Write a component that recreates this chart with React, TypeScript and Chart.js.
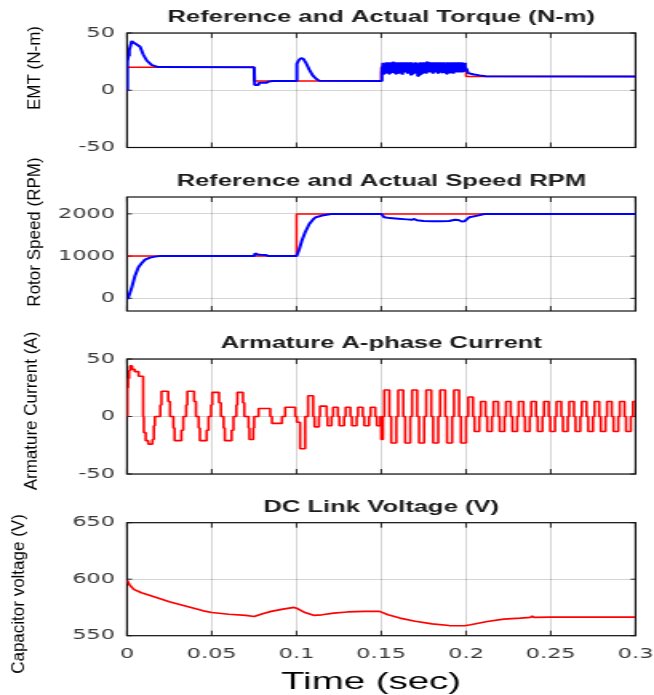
import React, { useEffect, useRef } from 'react';
import { Chart, registerables } from 'chart.js';

Chart.register(...registerables);

type Pt = [number, number];

// ---------- data ----------
const timeTicks = [0, 0.05, 0.1, 0.15, 0.2, 0.25, 0.3];
const timeTickLabels = ['0', '0.05', '0.1', '0.15', '0.2', '0.25', '0.3'];

const torqueTicks = [-50, 0, 50];
const speedTicks = [0, 1000, 2000];
const currentTicks = [-50, 0, 50];
const voltageTicks = [550, 600, 650];

const torqueRef: Pt[] = [
  [0, 20], [0.075, 20], [0.075, 8], [0.15, 8], [0.15, 20], [0.2, 20], [0.2, 12], [0.3, 12],
];

const torqueActual: Pt[] = [
  [0, 0], [0.0002, 25], [0.0008, 30], [0.0013, 35], [0.0028, 43], [0.004, 41.5], [0.0057, 40],
  [0.0077, 38], [0.0096, 31], [0.0116, 26], [0.0146, 22], [0.0185, 20.2], [0.075, 20],
  [0.0753, 4.5], [0.0775, 4.5], [0.078, 6.5], [0.0825, 6.5], [0.083, 7.5], [0.086, 8],
  [0.0998, 8], [0.1002, 23], [0.1012, 26], [0.1025, 28], [0.104, 27.5], [0.1055, 24],
  [0.1075, 18], [0.1095, 13], [0.1115, 10], [0.1135, 8.2], [0.1497, 8], [0.1502, 14],
  [0.1505, 15.5], [0.151, 24], [0.1515, 14.5], [0.152, 23], [0.1525, 15.5], [0.153, 24.5], [0.1535, 16],
  [0.154, 24], [0.1545, 14.5], [0.155, 24.5], [0.1555, 15.5], [0.156, 24], [0.1565, 16], [0.157, 25],
  [0.1575, 15.5], [0.158, 24], [0.1585, 14.5], [0.159, 24.5], [0.1595, 16], [0.16, 23], [0.1605, 14.5],
  [0.161, 24.5], [0.1615, 15.5], [0.162, 24], [0.1625, 13.5], [0.163, 24.5], [0.1635, 15.5], [0.164, 24],
  [0.1645, 16], [0.165, 24.5], [0.1655, 14.5], [0.166, 24], [0.1665, 15.5], [0.167, 24.5], [0.1675, 13],
  [0.168, 24], [0.1685, 14.5], [0.169, 23], [0.1695, 15.5], [0.17, 24.5], [0.1705, 16], [0.171, 24],
  [0.1715, 12.5], [0.172, 23], [0.1725, 13.5], [0.173, 24.5], [0.1735, 14.5], [0.174, 24], [0.1745, 15.5],
  [0.175, 24.5], [0.1755, 16], [0.176, 24], [0.1765, 14.5], [0.177, 25], [0.1775, 15.5], [0.178, 24],
  [0.1785, 16], [0.179, 24.5], [0.1795, 15.5], [0.18, 24], [0.1805, 14.5], [0.181, 24.5], [0.1815, 16],
  [0.182, 23], [0.1825, 15.5], [0.183, 24.5], [0.1835, 14.5], [0.184, 24], [0.1845, 16], [0.185, 24.5],
  [0.1855, 15.5], [0.186, 24], [0.1865, 16], [0.187, 24.5], [0.1875, 15.5], [0.188, 23], [0.1885, 14.5],
  [0.189, 24.5], [0.1895, 16], [0.19, 24], [0.1905, 15.5], [0.191, 24.5], [0.1915, 16], [0.192, 24],
  [0.1925, 14.5], [0.193, 24.5], [0.1935, 15.5], [0.194, 24], [0.1945, 16], [0.195, 24.5], [0.1955, 15.5],
  [0.196, 24], [0.1965, 16], [0.197, 24.5], [0.1975, 15.5], [0.198, 24], [0.1985, 16], [0.199, 24],
  [0.1995, 17], [0.2002, 19], [0.2012, 15], [0.204, 14], [0.208, 13], [0.2115, 12.2], [0.3, 12],
];

const speedRef: Pt[] = [[0, 1000], [0.1, 1000], [0.1, 2000], [0.3, 2000]];

const speedActual: Pt[] = [
  [0, -20], [0.0008, 24], [0.0028, 260], [0.0047, 537], [0.0067, 735], [0.0087, 838],
  [0.0106, 917], [0.0136, 964], [0.0165, 988], [0.019, 1000], [0.075, 1000], [0.0755, 1065],
  [0.077, 1040], [0.079, 1030], [0.082, 1025], [0.0835, 1000], [0.1, 1000], [0.1015, 1150],
  [0.103, 1350], [0.105, 1560], [0.1075, 1760], [0.11, 1880], [0.1113, 1920], [0.115, 1960],
  [0.1186, 1985], [0.121, 2000], [0.15, 2000], [0.1517, 1920], [0.155, 1900], [0.16, 1885],
  [0.165, 1870], [0.168, 1860], [0.1695, 1880], [0.171, 1850], [0.175, 1830], [0.18, 1825],
  [0.185, 1825], [0.19, 1830], [0.1935, 1860], [0.1955, 1855], [0.1975, 1820], [0.199, 1825],
  [0.2019, 1920], [0.2068, 1960], [0.21, 1990], [0.212, 2000], [0.3, 2000],
];

// phase current, sample-and-hold steps (value holds until next time)
const phaseCurrent: Pt[] = [
  [0, 0], [0.0002, 25], [0.0006, 33], [0.0012, 40], [0.0018, 44], [0.003, 41], [0.0045, 39],
  [0.0068, 35], [0.0095, 0], [0.0099, -14], [0.011, -21], [0.0125, -24], [0.015, -20],
  [0.0158, -8], [0.0164, 0],
  [0.0196, 10], [0.0203, 22], [0.0243, 13], [0.0254, 0],
  [0.0274, -10], [0.0281, -21], [0.0321, -12], [0.0332, 0],
  [0.0349, 10], [0.0356, 22], [0.0396, 13], [0.0407, 0],
  [0.0423, -10], [0.043, -21], [0.047, -12], [0.0481, 0],
  [0.0496, 10], [0.0503, 21], [0.0543, 12], [0.0554, 0],
  [0.057, -10], [0.0577, -21], [0.0617, -12], [0.0628, 0],
  [0.0645, 10], [0.0651, 21], [0.0684, 12], [0.0692, 0],
  [0.0717, -10], [0.0722, -20], [0.0745, -10], [0.075, 0],
  [0.0776, 7], [0.0845, 0], [0.0855, -6], [0.0914, 0], [0.0933, 8], [0.0992, 0],
  [0.1002, -5], [0.1021, -28], [0.1051, 0],
  [0.1068, 18], [0.1098, 0], [0.1106, -9], [0.1132, 0], [0.1138, 9], [0.1178, 0],
  [0.1183, -8], [0.1207, 0], [0.1216, 8], [0.1244, 0], [0.1253, -8], [0.1281, 0],
  [0.129, 8], [0.1318, 0], [0.1327, -8], [0.1355, 0], [0.1363, 8], [0.1391, 0],
  [0.14, -8], [0.1428, 0], [0.1437, 8], [0.1465, 0], [0.1474, -8], [0.1495, 0],
  [0.15, -20], [0.151, 0], [0.1518, 23], [0.1548, 0], [0.1559, -23], [0.1589, 0],
  [0.16, 23], [0.163, 0], [0.1641, -23], [0.1671, 0], [0.1682, 23], [0.1712, 0],
  [0.1723, -23], [0.1753, 0], [0.1765, 23], [0.1795, 0], [0.1806, -23], [0.1836, 0],
  [0.1847, 23], [0.1877, 0], [0.1888, -23], [0.1918, 0], [0.1929, 23], [0.1959, 0],
  [0.197, -23], [0.2, 0], [0.2013, 17], [0.2041, 0], [0.205, -13], [0.2078, 0],
  [0.2087, 13], [0.2115, 0], [0.2125, -13], [0.2153, 0], [0.2162, 13], [0.219, 0],
  [0.2199, -13], [0.2227, 0], [0.2236, 13], [0.2264, 0], [0.2274, -13], [0.2302, 0],
  [0.2311, 13], [0.2339, 0], [0.2348, -13], [0.2376, 0], [0.2385, 13], [0.2413, 0],
  [0.2423, -13], [0.2451, 0], [0.246, 13], [0.2488, 0], [0.2497, -13], [0.2525, 0],
  [0.2534, 13], [0.2562, 0], [0.2572, -13], [0.26, 0], [0.2609, 13], [0.2637, 0],
  [0.2646, -13], [0.2674, 0], [0.2683, 13], [0.2711, 0], [0.2721, -13], [0.2749, 0],
  [0.2758, 13], [0.2786, 0], [0.2795, -13], [0.2823, 0], [0.2832, 13], [0.286, 0],
  [0.287, -13], [0.2898, 0], [0.2907, 13], [0.2935, 0], [0.2944, -13], [0.2972, 0],
  [0.2985, 13], [0.3, 13],
];

const dcLinkVoltage: Pt[] = [
  [0, 599], [0.0015, 595], [0.004, 591], [0.0085, 588], [0.015, 585], [0.025, 580],
  [0.035, 576], [0.045, 572], [0.05, 570.5], [0.06, 569], [0.07, 568], [0.075, 567],
  [0.08, 569.5], [0.085, 571.5], [0.092, 573.5], [0.0985, 575], [0.1005, 574], [0.105, 570.5],
  [0.11, 568], [0.115, 568.5], [0.122, 570], [0.13, 571], [0.14, 571.5], [0.149, 571.5],
  [0.154, 568.5], [0.161, 565.6], [0.17, 562.8], [0.18, 560.5], [0.19, 559], [0.199, 558.8],
  [0.2027, 559.7], [0.2125, 562.6], [0.2223, 564.7], [0.232, 565.6], [0.238, 566.2],
  [0.239, 567.5], [0.24, 566.3], [0.25, 566.5], [0.3, 566.5],
];

// ---------- layout ----------
const BW = 409; // canvas bitmap width
const K = 654 / BW; // horizontal stretch factor of the figure
const PLOT_LEFT = 127 / K;
const PLOT_RIGHT = 635.5 / K;
const BLUE = '#0000ff';
const RED = '#ff0000';
const TEXT = '#1c1c1c';
const TICK_TEXT = '#383838';
const GRID = 'rgba(0,0,0,0.17)';

interface Series { data: Pt[]; color: string; width: number; stepped?: boolean }
interface Panel {
  top: number; height: number; padTop: number; padBottom: number; xAxisHeight: number;
  title: string; yLabel: string; yLabelX: number; yLabelY: number;
  yMin: number; yMax: number; yTicks: number[]; showX: boolean; series: Series[];
}

const panels: Panel[] = [
  {
    top: 0, height: 160, padTop: 33, padBottom: 12.5, xAxisHeight: 0,
    title: 'Reference and Actual Torque (N-m)', yLabel: 'EMT (N-m)', yLabelX: 35, yLabelY: 68,
    yMin: -50, yMax: 50, yTicks: torqueTicks, showX: false,
    series: [
      { data: torqueActual, color: BLUE, width: 2 },
      { data: torqueRef, color: RED, width: 1.5 },
    ],
  },
  {
    top: 145, height: 180, padTop: 52, padBottom: 14, xAxisHeight: 0,
    title: 'Reference and Actual Speed RPM', yLabel: 'Rotor Speed (RPM)', yLabelX: 35, yLabelY: 232,
    yMin: -300, yMax: 2400, yTicks: speedTicks, showX: false,
    series: [
      { data: speedActual, color: BLUE, width: 2 },
      { data: speedRef, color: RED, width: 1.5 },
    ],
  },
  {
    top: 325, height: 170, padTop: 34, padBottom: 21, xAxisHeight: 0,
    title: 'Armature A-phase Current', yLabel: 'Armature Current (A)', yLabelX: 32, yLabelY: 411,
    yMin: -50, yMax: 50, yTicks: currentTicks, showX: false,
    series: [{ data: phaseCurrent, color: RED, width: 1.6, stepped: true }],
  },
  {
    top: 495, height: 200, padTop: 27.7, padBottom: 0, xAxisHeight: 59.3,
    title: 'DC Link Voltage (V)', yLabel: 'Capacitor voltage (V)', yLabelX: 19, yLabelY: 594,
    yMin: 550, yMax: 650, yTicks: voltageTicks, showX: true,
    series: [{ data: dcLinkVoltage, color: RED, width: 1.7 }],
  },
];

function makeDecor(p: Panel) {
  return {
    id: 'panelDecor',
    beforeDatasetsDraw(chart: any) {
      const { ctx, chartArea: a } = chart;
      const xs = chart.scales.x;
      const ys = chart.scales.y;
      ctx.save();
      ctx.strokeStyle = '#262626';
      ctx.lineWidth = 1;
      ctx.beginPath();
      for (const v of timeTicks) {
        const px = xs.getPixelForValue(v);
        ctx.moveTo(px, a.bottom); ctx.lineTo(px, a.bottom - 5);
        ctx.moveTo(px, a.top); ctx.lineTo(px, a.top + 5);
      }
      for (const v of p.yTicks) {
        const py = ys.getPixelForValue(v);
        ctx.moveTo(a.left, py); ctx.lineTo(a.left + 5 / K, py);
        ctx.moveTo(a.right, py); ctx.lineTo(a.right - 5 / K, py);
      }
      ctx.stroke();
      ctx.strokeStyle = '#111';
      ctx.lineWidth = 1.2;
      ctx.strokeRect(a.left, a.top, a.right - a.left, a.bottom - a.top);
      ctx.restore();
    },
    afterDraw(chart: any) {
      const { ctx, chartArea: a } = chart;
      ctx.save();
      ctx.fillStyle = TEXT;
      ctx.textAlign = 'center';
      ctx.textBaseline = 'alphabetic';
      ctx.font = 'bold 16px "Liberation Sans", Arial, sans-serif';
      ctx.fillText(p.title, (a.left + a.right) / 2, a.top - 11);
      if (p.showX) {
        ctx.font = '24px "Liberation Sans", Arial, sans-serif';
        ctx.fillStyle = '#000';
        ctx.fillText('Time (sec)', 371 / K, 689 - p.top);
      }
      // y label, drawn un-stretched
      ctx.translate(p.yLabelX / K, p.yLabelY - p.top);
      ctx.scale(1.1 / K, 1);
      ctx.rotate(-Math.PI / 2);
      ctx.textBaseline = 'middle';
      ctx.fillStyle = '#000';
      ctx.font = '17px "Liberation Sans", Arial, sans-serif';
      ctx.fillText(p.yLabel, 0, 0);
      ctx.restore();
    },
  };
}

function makeChart(canvas: HTMLCanvasElement, p: Panel) {
  const tickFont = { family: '"DejaVu Sans", sans-serif', size: 14 };
  return new Chart(canvas, {
    type: 'line',
    data: {
      datasets: p.series.map((s) => ({
        data: s.data.map(([x, y]) => ({ x, y })),
        borderColor: s.color,
        backgroundColor: s.color,
        borderWidth: s.width,
        borderJoinStyle: 'bevel',
        pointRadius: 0,
        tension: 0,
        fill: false,
        stepped: s.stepped ? true : false,
      })),
    },
    options: {
      responsive: false,
      animation: false,
      devicePixelRatio: 1,
      events: [],
      layout: { padding: { left: 0, right: BW - PLOT_RIGHT, top: p.padTop, bottom: p.padBottom } },
      plugins: { legend: { display: false }, tooltip: { enabled: false }, title: { display: false } },
      scales: {
        x: {
          type: 'linear',
          min: 0,
          max: 0.3,
          afterBuildTicks: (s: any) => { s.ticks = timeTicks.map((v) => ({ value: v })); },
          afterFit: (s: any) => { s.height = p.xAxisHeight; s.paddingLeft = 0; s.paddingRight = 0; },
          ticks: {
            display: p.showX,
            autoSkip: false,
            maxRotation: 0,
            padding: 10,
            color: TICK_TEXT,
            font: tickFont,
            callback: (_v: any, i: number) => timeTickLabels[i],
          },
          grid: { color: GRID, lineWidth: 1, drawTicks: false },
          border: { display: false },
        },
        y: {
          type: 'linear',
          min: p.yMin,
          max: p.yMax,
          afterBuildTicks: (s: any) => { s.ticks = p.yTicks.map((v) => ({ value: v })); },
          afterFit: (s: any) => { s.width = PLOT_LEFT; s.paddingTop = 0; s.paddingBottom = 0; },
          ticks: {
            autoSkip: false,
            padding: 7.5,
            color: TICK_TEXT,
            font: tickFont,
            callback: (v: any) => String(v),
          },
          grid: { color: GRID, lineWidth: 1, drawTicks: false },
          border: { display: false },
        },
      },
    } as any,
    plugins: [makeDecor(p)],
  });
}

export default function App() {
  const canvases = useRef<(HTMLCanvasElement | null)[]>([]);
  useEffect(() => {
    const charts = panels.map((p, i) => makeChart(canvases.current[i] as HTMLCanvasElement, p));
    return () => charts.forEach((c) => c.destroy());
  }, []);
  return (
    <div style={{ position: 'absolute', left: 0, top: 0, width: 654, height: 695, background: '#fff', overflow: 'hidden' }}>
      {panels.map((p, i) => (
        <canvas
          key={i}
          ref={(el) => { canvases.current[i] = el; }}
          width={BW}
          height={p.height}
          style={{ position: 'absolute', left: 0, top: p.top, width: '654px', height: `${p.height}px` }}
        />
      ))}
    </div>
  );
}
